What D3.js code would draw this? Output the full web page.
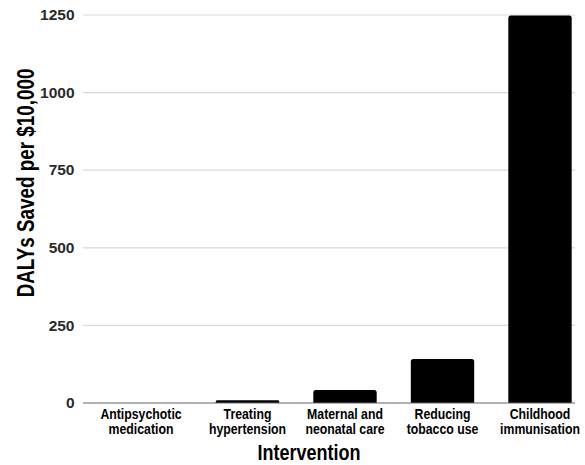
<!DOCTYPE html>
<html><head><meta charset="utf-8">
<script src="https://cdn.jsdelivr.net/npm/d3@7"></script>
<style>body{margin:0;background:#fff}svg{display:block}text{font-family:"Liberation Sans",Arial,sans-serif;font-weight:bold}</style>
</head><body><svg id="c" width="585" height="465"></svg>
<script>
const categories = [["Antipsychotic","medication"],["Treating","hypertension"],["Maternal and","neonatal care"],["Reducing","tobacco use"],["Childhood","immunisation"]];
const values = [0.3, 9, 42, 142, 1248];
const yTicks = [0, 250, 500, 750, 1000, 1250];
const yTitle = "DALYs Saved per $10,000";
const xTitle = "Intervention";

const svg = d3.select("#c");
const x = d3.scaleBand().domain(d3.range(categories.length)).range([101.25, 588.75]).paddingInner(0.35).paddingOuter(0.175);
const y = d3.scaleLinear().domain([0, 1250]).range([403, 15]);
const left = 83, right = 575, narrow = 0.82;

svg.append("g").selectAll("line").data(yTicks.filter(d => d > 0)).join("line")
  .attr("x1", left).attr("x2", right).attr("y1", d => y(d)).attr("y2", d => y(d))
  .attr("stroke", "#d9d9d9").attr("stroke-width", 1.2);

svg.append("g").selectAll("text").data(yTicks).join("text")
  .attr("x", 74.5).attr("y", d => y(d)).attr("dy", "0.33em").attr("text-anchor", "end")
  .attr("font-size", 15.5).attr("fill", "#2a2a2a").text(d => d);

function barPath(x0, w, yTop, yBot) {
  const r = Math.min(2.5, (yBot - yTop) / 2, w / 2);
  return `M${x0},${yBot}V${yTop + r}Q${x0},${yTop} ${x0 + r},${yTop}H${x0 + w - r}Q${x0 + w},${yTop} ${x0 + w},${yTop + r}V${yBot}Z`;
}
svg.append("g").selectAll("path").data(values).join("path")
  .attr("d", (d, i) => barPath(x(i), x.bandwidth(), y(d), y(0)))
  .attr("fill", "#000");

svg.append("line").attr("x1", left).attr("x2", right).attr("y1", y(0)).attr("y2", y(0))
  .attr("stroke", "#666").attr("stroke-width", 1.2);

// first label sits slightly left of its band in the original layout
const labelCx = i => x(i) + x.bandwidth() / 2 - (i === 0 ? 9 : 0);
const lab = svg.append("g").selectAll("text").data(categories).join("text")
  .attr("transform", (d, i) => `translate(${labelCx(i)},0) scale(${narrow},1)`)
  .attr("text-anchor", "middle").attr("font-size", 15).attr("fill", "#000");
lab.each(function(d) {
  d3.select(this).selectAll("tspan").data(d).join("tspan")
    .attr("x", 0).attr("y", (t, j) => 419 + j * 15).text(t => t);
});

svg.append("text").attr("transform", `translate(309,460) scale(${narrow},1)`).attr("text-anchor", "middle")
  .attr("font-size", 22).attr("fill", "#000").text(xTitle);

svg.append("text").attr("transform", `translate(33.5,183) rotate(-90) scale(${narrow},1)`).attr("text-anchor", "middle")
  .attr("font-size", 23).attr("fill", "#000").text(yTitle);
</script></body></html>
